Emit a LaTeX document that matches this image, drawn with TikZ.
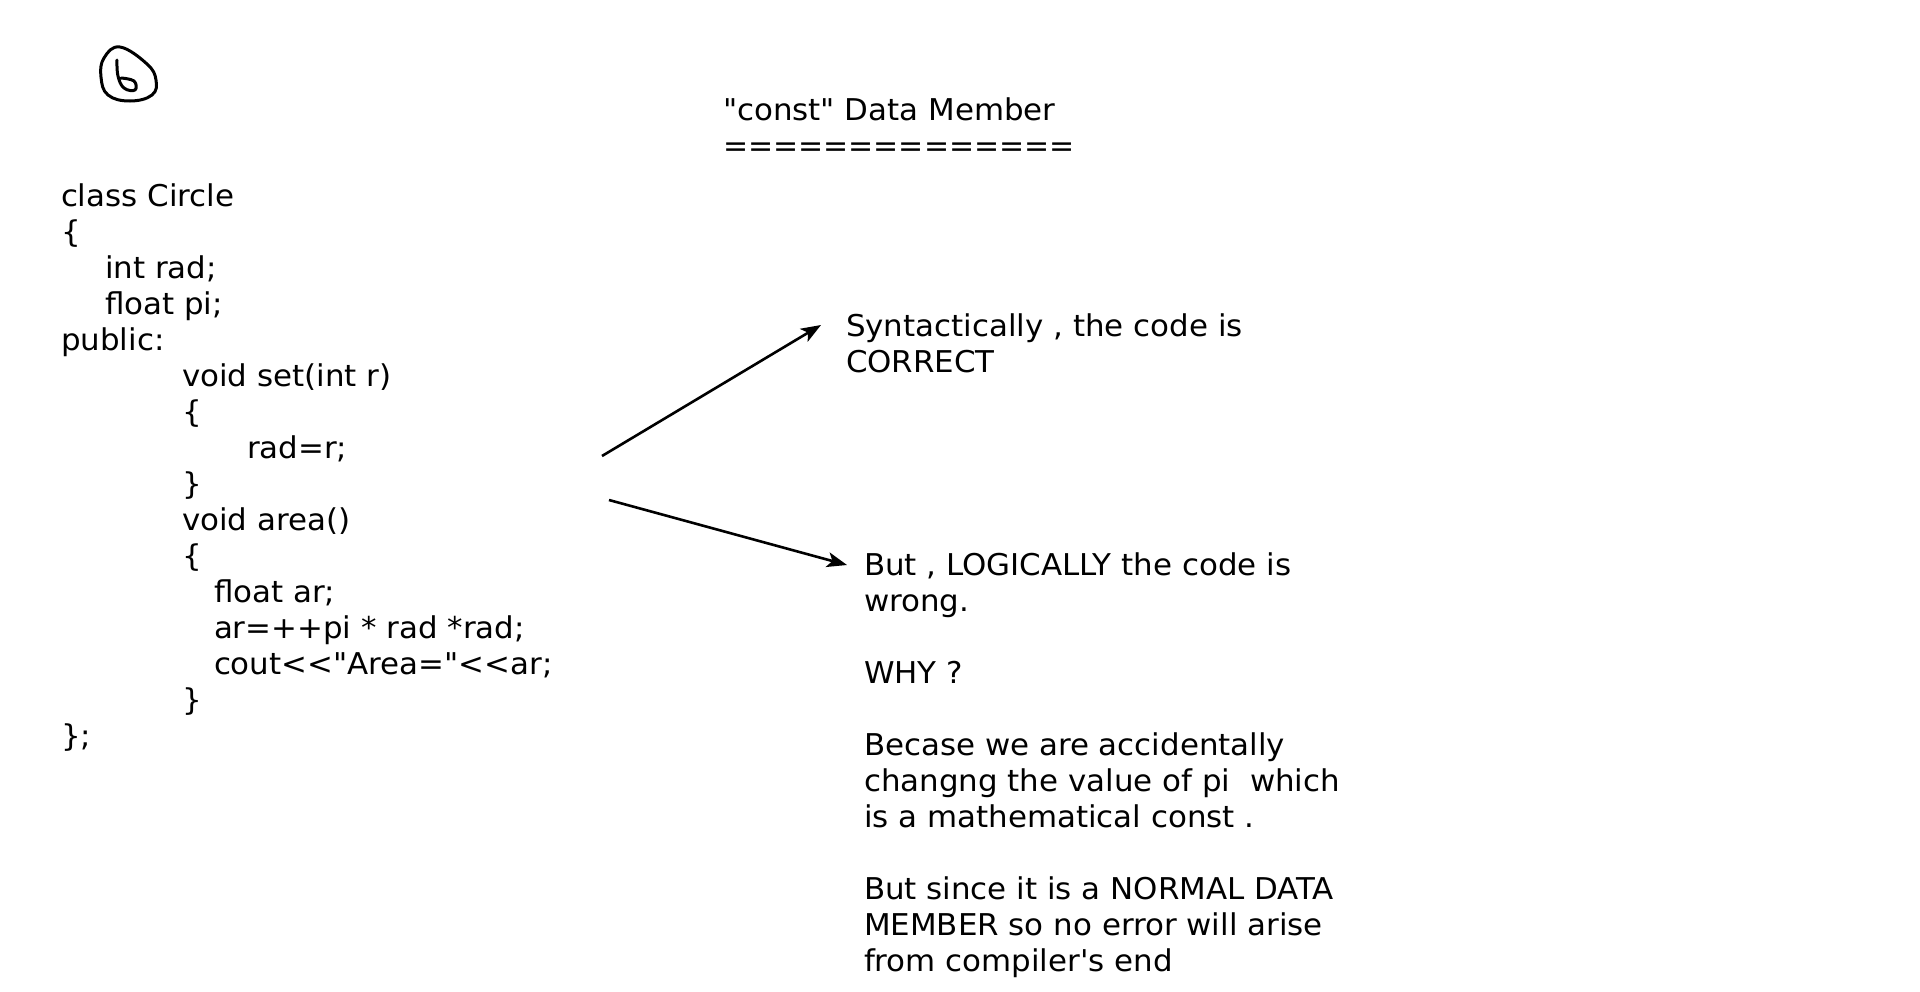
\documentclass[tikz,border=0pt]{standalone}
\usepackage{fontspec}
\setmainfont{DejaVu Sans}[Ligatures=TeXOff, FakeStretch=1.03]
\newfontfamily\eqfont{DejaVu Sans}[Ligatures=TeXOff]
\usetikzlibrary{arrows.meta}
\newcommand{\myline}[1]{\hbox{#1}}
\newcommand{\ind}[1]{\hspace*{#1pt}}
\tikzset{
  txt/.style={anchor=base west, inner sep=0pt, outer sep=0pt, font=\fontsize{30}{36}\selectfont},
  arr/.style={line width=2.6pt, -{Stealth[length=20pt,width=15pt,inset=5pt]}},
  hand/.style={line width=3pt, line cap=round, line join=round}
}
\begin{document}
\begin{tikzpicture}[x=1pt,y=-1pt]
\useasboundingbox (0,0) rectangle (1920,991);
% handwritten circled 6
\draw[hand] plot[smooth cycle, tension=0.7] coordinates {(120,47) (147,64) (156,80) (152,95) (130,101) (108,95) (101,77) (104,58)};
\draw[hand] plot[smooth, tension=0.7] coordinates {(117,60) (118,76) (124,88) (135,90) (134,81) (121,78)};
% title
\node[txt] (title) at (723,120) {\vtop{\myline{"const" Data Member}\myline{\eqfont ==============}}};
% code
\node[txt] (code) at (61,206) {\vtop{%
\myline{class Circle}%
\myline{\{}%
\myline{\ind{44}int rad;}%
\myline{\ind{44}float pi;}%
\myline{public:}%
\myline{\ind{121}void set(int r)}%
\myline{\ind{121}\{}%
\myline{\ind{186}rad=r;}%
\myline{\ind{121}\}}%
\myline{\ind{121}void area()}%
\myline{\ind{121}\{}%
\myline{\ind{153}float ar;}%
\myline{\ind{153}ar=++pi * rad *rad;}%
\myline{\ind{153}cout<<"Area="<<ar;}%
\myline{\ind{121}\}}%
\myline{\};}}};
% right texts
\node[txt] (syn) at (846,336) {\vtop{\myline{Syntactically , the code is}\myline{CORRECT}}};
\node[txt] (logic) at (864,575) {\vtop{%
\myline{But , LOGICALLY the code is}%
\myline{wrong.}%
\myline{}%
\myline{WHY ?}%
\myline{}%
\myline{Becase we are accidentally}%
\myline{changng the value of pi\ \ which}%
\myline{is a mathematical const .}%
\myline{}%
\myline{But since it is a NORMAL DATA}%
\myline{MEMBER so no error will arise}%
\myline{from compiler's end}}};
% arrows
\coordinate (a1s) at (602,456);
\coordinate (a1e) at (821,325);
\coordinate (a2s) at (609,500);
\coordinate (a2e) at (847,565);
\draw[arr] (a1s) -- (a1e);
\draw[arr] (a2s) -- (a2e);
\end{tikzpicture}
\end{document}
